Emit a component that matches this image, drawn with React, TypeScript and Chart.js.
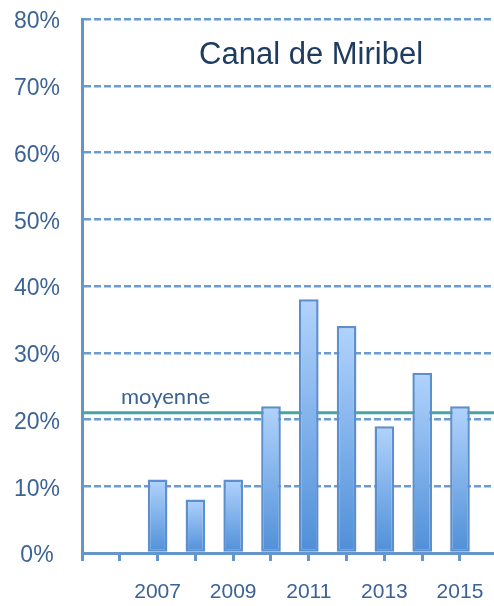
import React, { useEffect, useRef } from "react";
import { Chart, registerables } from "chart.js";

Chart.register(...registerables);

const years = [2007, 2008, 2009, 2010, 2011, 2012, 2013, 2014, 2015];
const values = [11, 8, 11, 22, 38, 34, 19, 27, 22];
const yTicks = [0, 10, 20, 30, 40, 50, 60, 70, 80];
const xMin = 2005;
const xMax = 2015.9;
const averageValue = 21;
const averageLabel = "moyenne";
const titleText = "Canal de Miribel";

const axisBlue = "#6496cc";
const gridBlue = "#6a9bd2";
const labelBlue = "#3b6395";

const overlayPlugin = {
  id: "overlay",
  beforeDatasetsDraw(chart: any) {
    const { ctx, chartArea, scales } = chart;
    const y = scales.y.getPixelForValue(averageValue);
    ctx.save();
    ctx.strokeStyle = "#4aa3a6";
    ctx.lineWidth = 3;
    ctx.beginPath();
    ctx.moveTo(chartArea.left, y);
    ctx.lineTo(chartArea.right, y);
    ctx.stroke();
    ctx.fillStyle = labelBlue;
    ctx.font = "22px Lato";
    ctx.textAlign = "left";
    ctx.textBaseline = "alphabetic";
    ctx.fillText(averageLabel, chartArea.left + 39, y - 9);
    ctx.restore();
  },
  afterDatasetsDraw(chart: any) {
    const { ctx, chartArea } = chart;
    ctx.save();
    ctx.fillStyle = "#1e3b60";
    ctx.font = "31px 'Liberation Sans', Arial, sans-serif";
    ctx.textAlign = "center";
    ctx.textBaseline = "middle";
    ctx.fillText(titleText, chartArea.left + (chartArea.right - chartArea.left) * 0.556, chartArea.top + 36);
    ctx.restore();
  },
};

export default function App() {
  const ref = useRef<HTMLCanvasElement>(null);
  useEffect(() => {
    if (!ref.current) return;
    const chart = new Chart(ref.current, {
      type: "bar",
      data: {
        datasets: [
          {
            data: years.map((yr, i) => ({ x: yr, y: values[i] })),
            backgroundColor: (c: any) => {
              const ch = c.chart;
              if (!ch.chartArea || c.type !== "data") return "#7fb0ea";
              const v = c.parsed ? c.parsed.y : 0;
              const top = ch.scales.y.getPixelForValue(v);
              const bottom = ch.scales.y.getPixelForValue(0);
              const g = ch.ctx.createLinearGradient(0, top, 0, bottom);
              g.addColorStop(0, "#b1d3fd");
              g.addColorStop(1, "#4f8fd8");
              return g;
            },
            borderColor: "#5c8fcb",
            borderWidth: 2.5,
            borderSkipped: false,
            categoryPercentage: 1,
            barPercentage: 0.52,
          } as any,
        ],
      },
      options: {
        animation: false,
        responsive: true,
        maintainAspectRatio: false,
        layout: { padding: { top: 19, right: 0, left: 0, bottom: 0 } },
        plugins: {
          legend: { display: false },
          tooltip: { enabled: false },
          title: { display: false },
        },
        scales: {
          x: {
            type: "linear",
            offset: false,
            min: xMin,
            max: xMax,
            afterFit: (s: any) => {
              s.height = 53;
              s.paddingLeft = 0;
              s.paddingRight = 0;
            },
            grid: {
              offset: false,
              drawOnChartArea: false,
              drawTicks: true,
              tickLength: 8,
              color: axisBlue,
              lineWidth: 3,
            },
            border: { display: true, color: axisBlue, width: 3 },
            ticks: {
              stepSize: 1,
              includeBounds: false,
              autoSkip: false,
              maxRotation: 0,
              maxTicksLimit: 30,
              padding: 19,
              color: labelBlue,
              font: { family: "'Liberation Sans', Arial, sans-serif", size: 21 },
              callback: (v: any) => (Number(v) % 2 === 1 && years.includes(Number(v)) ? String(v) : ""),
            },
          },
          y: {
            min: yTicks[0],
            max: yTicks[yTicks.length - 1],
            afterFit: (s: any) => {
              s.width = 82;
              s.paddingTop = 0;
              s.paddingBottom = 0;
            },
            afterBuildTicks: (s: any) => {
              s.ticks = yTicks.map((v) => ({ value: v }));
            },
            grid: {
              drawTicks: false,
              color: (c: any) => (c.tick && c.tick.value === 0 ? "rgba(0,0,0,0)" : gridBlue),
              lineWidth: 2.5,
            },
            border: { display: true, color: axisBlue, width: 3, dash: [7, 3] },
            ticks: {
              crossAlign: "center",
              padding: 22,
              labelOffset: 3,
              color: labelBlue,
              font: { family: "'Liberation Sans', Arial, sans-serif", size: 23 },
              callback: (v: any) => v + "%",
            },
          } as any,
        },
      },
      plugins: [overlayPlugin],
    } as any);
    return () => chart.destroy();
  }, []);
  return (
    <div style={{ position: "fixed", left: 0, top: 0, width: 494, height: 606 }}>
      <canvas ref={ref} />
    </div>
  );
}
